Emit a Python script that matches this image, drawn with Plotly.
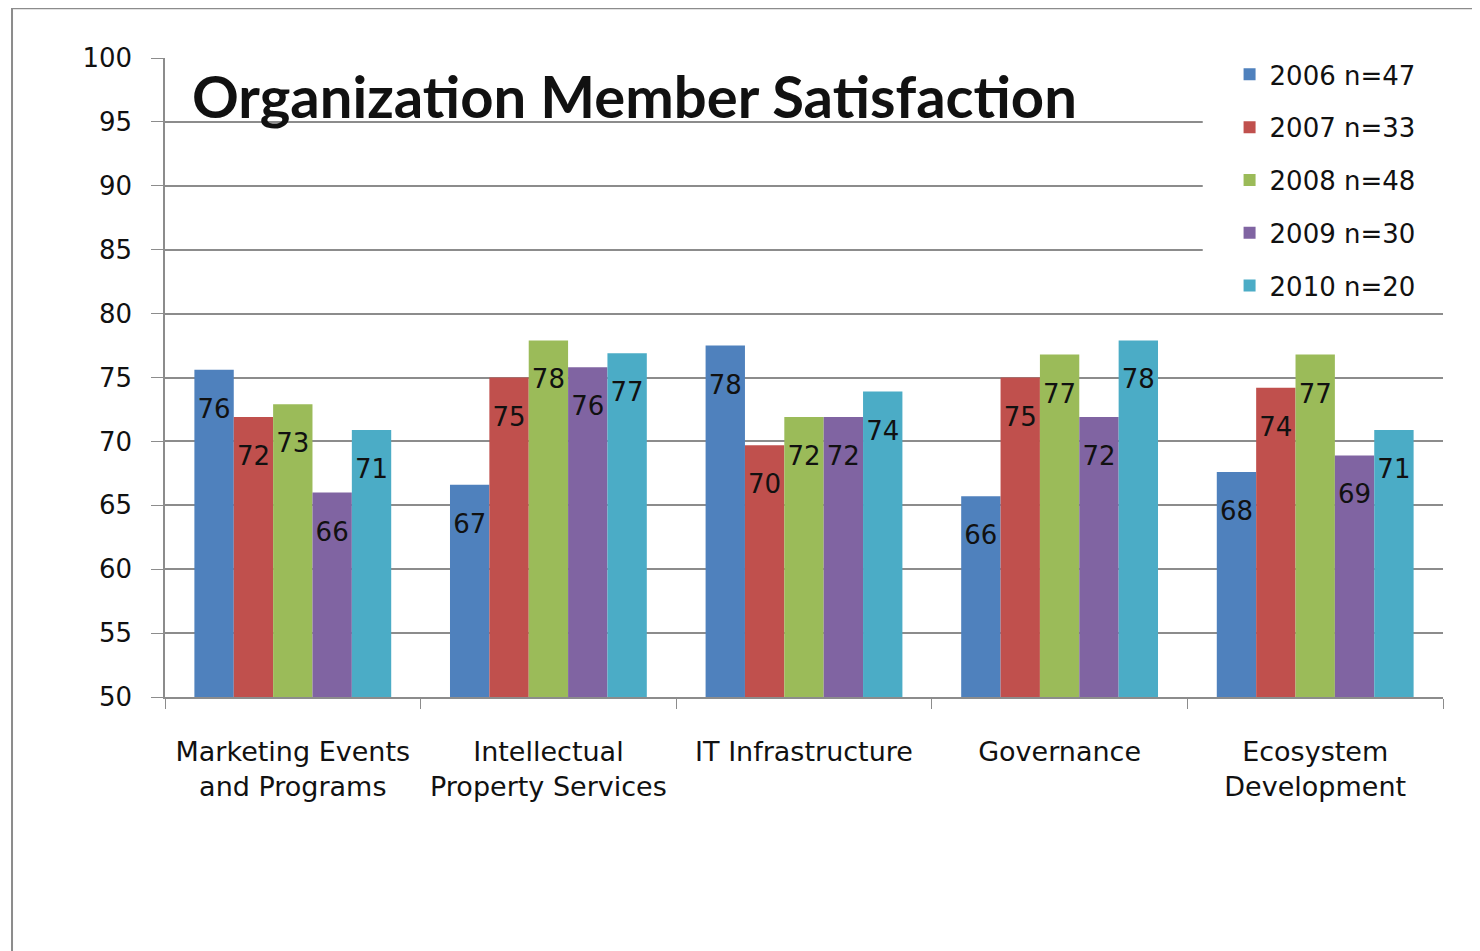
import plotly.graph_objects as go

categories = ["Marketing Events<br>and Programs", "Intellectual<br>Property Services",
              "IT Infrastructure", "Governance", "Ecosystem<br>Development"]
series_names = ["2006 n=47", "2007 n=33", "2008 n=48", "2009 n=30", "2010 n=20"]
v2006 = [75.6, 66.6, 77.5, 65.7, 67.6]
v2007 = [71.9, 75.0, 69.7, 75.0, 74.2]
v2008 = [72.9, 77.9, 71.9, 76.8, 76.8]
v2009 = [66.0, 75.8, 71.9, 71.9, 68.9]
v2010 = [70.9, 76.9, 73.9, 77.9, 70.9]
y_ticks = [50, 55, 60, 65, 70, 75, 80, 85, 90, 95, 100]

colors = ["#4F81BD", "#C0504D", "#9BBB59", "#8064A2", "#4BACC6"]
all_values = [v2006, v2007, v2008, v2009, v2010]
font_main = "DejaVu Sans"

fig = go.Figure()
for i, (name, vals) in enumerate(zip(series_names, all_values)):
    fig.add_trace(go.Bar(
        x=categories, y=vals, name=name, marker_color=colors[i],
        marker_line_width=0, offsetgroup=str(i), legendgroup=str(i),
    ))
# value labels, grouped like the bars and hung just under each bar top
for i, vals in enumerate(all_values):
    fig.add_trace(go.Scatter(
        x=categories, y=vals, mode="markers+text", offsetgroup=str(i),
        marker=dict(size=44, opacity=0), texttemplate="%{y:.0f}",
        textposition="bottom center", showlegend=False, hoverinfo="skip",
        textfont=dict(family=font_main, size=26, color="#111111"),
        cliponaxis=False,
    ))

# the page adds an 8px body margin, so the figure is a bit smaller and shifted
fig.update_layout(
    width=1472, height=943,
    margin=dict(l=157, r=37, t=50, b=254),
    paper_bgcolor="white", plot_bgcolor="white",
    barmode="group", bargap=0.23, bargroupgap=0,
    scattermode="group", scattergap=0.23,
    font=dict(family=font_main, size=26, color="#111111"),
    legend=dict(
        x=0.833, y=1.011, xanchor="left", yanchor="top",
        bgcolor="white", borderwidth=0, tracegroupgap=16,
        font=dict(family=font_main, size=26, color="#111111"),
    ),
    showlegend=True,
)
fig.update_yaxes(
    range=[50, 100], tickvals=y_ticks, showgrid=True, gridcolor="#8c8c8c", gridwidth=1.5,
    showline=True, linecolor="#8c8c8c", linewidth=1.5, ticks="outside", ticklen=12,
    tickcolor="#8c8c8c", ticklabelstandoff=14, tickfont=dict(size=26, color="#111111"),
    zeroline=False,
)
fig.update_xaxes(
    showline=True, linecolor="#8c8c8c", linewidth=1.5, ticks="outside", ticklen=10,
    tickson="boundaries", tickcolor="#8c8c8c", ticklabelstandoff=30,
    tickfont=dict(size=27, color="#111111"), showgrid=False,
)

# white block behind the legend hiding the upper gridlines
fig.add_shape(type="rect", xref="paper", yref="paper", x0=0.812, x1=1.0, y0=0.65, y1=1.03,
              fillcolor="white", line_width=0, layer="above")
# outer chart border
fig.add_shape(type="rect", xref="paper", yref="paper", x0=-0.1197, x1=1.1, y0=-0.5, y1=1.078,
              line=dict(color="#8c8c8c", width=2), fillcolor="rgba(0,0,0,0)", layer="above")

fig.add_annotation(
    text="<b>Organization Member Satisfaction</b>", xref="paper", yref="paper",
    x=0.0196, y=0.942, xanchor="left", yanchor="middle", showarrow=False,
    font=dict(family="Lato", size=58, color="#111111"),
)

fig.write_html("out.html")
